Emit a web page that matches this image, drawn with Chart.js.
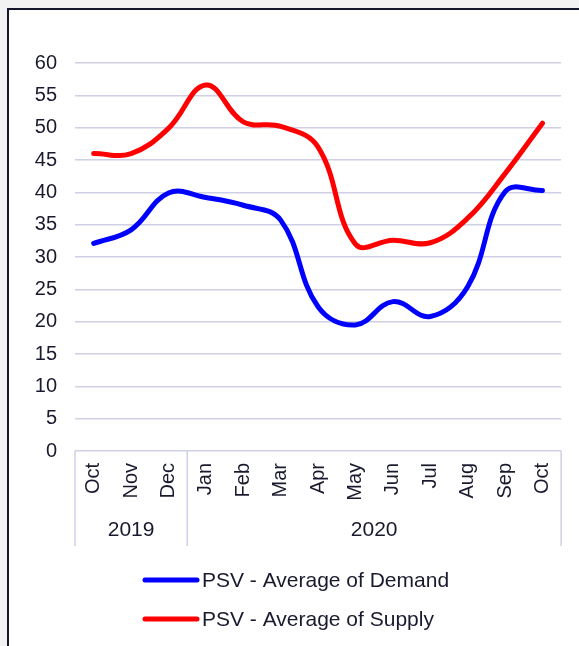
<!DOCTYPE html>
<html><head><meta charset="utf-8">
<script src="https://cdn.jsdelivr.net/npm/chart.js@4/dist/chart.umd.min.js"></script>
<style>
html,body{margin:0;padding:0;background:#f2f2f2;width:579px;height:646px;overflow:hidden}
#frame{position:absolute;left:7px;top:8px;width:600px;height:700px;background:#fff;border-top:2px solid #14172b;border-left:2px solid #14172b}
#wrap{position:absolute;left:0;top:0;width:579px;height:646px}
</style></head><body>
<div id="frame"></div>
<div id="wrap"><canvas id="c" width="579" height="646"></canvas></div>
<script>
const months = ['Oct','Nov','Dec','Jan','Feb','Mar','Apr','May','Jun','Jul','Aug','Sep','Oct'];
const yearLabels = ['2019','2020'];
const yearSpans = [3, 10];
const demand = [32.1, 34.2, 39.9, 39.2, 38.0, 35.7, 22.3, 19.5, 23.1, 20.8, 25.4, 40.1, 40.3];
const supply = [46.0, 46.0, 49.9, 56.6, 50.9, 50.2, 47.0, 32.0, 32.6, 32.2, 36.0, 42.9, 50.7];
const seriesNames = ['PSV - Average of Demand', 'PSV - Average of Supply'];

const FONT = '"Liberation Sans", Arial, sans-serif';
const TEXT = '#1a1a2e';
const GRID = '#cfd0e6';

const groupAxis = {
  id: 'groupAxis',
  afterDraw(chart) {
    const {ctx, scales: {x}, chartArea} = chart;
    const top = chartArea.bottom, bottom = 546;
    ctx.save();
    ctx.strokeStyle = GRID; ctx.lineWidth = 1.5;
    let start = -0.5;
    const bounds = [x.getPixelForValue(start)];
    yearSpans.forEach(n => { start += n; bounds.push(x.getPixelForValue(start)); });
    bounds.forEach(px => { ctx.beginPath(); ctx.moveTo(px, top); ctx.lineTo(px, bottom); ctx.stroke(); });
    ctx.fillStyle = TEXT; ctx.font = '21px ' + FONT;
    ctx.textAlign = 'center'; ctx.textBaseline = 'middle';
    yearLabels.forEach((lab, i) => ctx.fillText(lab, (bounds[i] + bounds[i + 1]) / 2, 530));
    // legend
    ctx.textAlign = 'left';
    ctx.font = '21px ' + FONT;
    chart.data.datasets.forEach((ds, i) => {
      const y = 580 + i * 39;
      ctx.strokeStyle = ds.borderColor; ctx.lineWidth = 5; ctx.lineCap = 'round';
      ctx.beginPath(); ctx.moveTo(145, y); ctx.lineTo(197, y); ctx.stroke();
      ctx.fillStyle = TEXT;
      ctx.fillText(ds.label, 202, y + 1);
    });
    ctx.restore();
  }
};

new Chart(document.getElementById('c'), {
  type: 'line',
  data: {
    labels: months,
    datasets: [
      {label: seriesNames[0], data: demand, borderColor: '#0000ff', backgroundColor: '#0000ff', borderWidth: 5, tension: 0.4, pointRadius: 0, borderCapStyle: 'round', fill: false},
      {label: seriesNames[1], data: supply, borderColor: '#ff0000', backgroundColor: '#ff0000', borderWidth: 5, tension: 0.4, pointRadius: 0, borderCapStyle: 'round', fill: false}
    ]
  },
  options: {
    responsive: false,
    animation: false,
    devicePixelRatio: 1,
    layout: {padding: {top: 63, right: 14, bottom: 0, left: 0}},
    plugins: {legend: {display: false}, tooltip: {enabled: false}},
    scales: {
      y: {
        min: 0, max: 60,
        ticks: {stepSize: 5, color: TEXT, font: {family: FONT, size: 20}, padding: 18},
        grid: {color: GRID, lineWidth: 1.5, drawTicks: false},
        border: {display: false},
        afterFit(s) { s.width = 75; }
      },
      x: {
        offset: true,
        ticks: {color: TEXT, font: {family: FONT, size: 20}, minRotation: 90, maxRotation: 90, autoSkip: false, padding: 12},
        grid: {display: false, drawTicks: false},
        border: {display: false},
        afterFit(s) { s.height = 195; }
      }
    }
  },
  plugins: [groupAxis]
});
</script>
</body></html>
